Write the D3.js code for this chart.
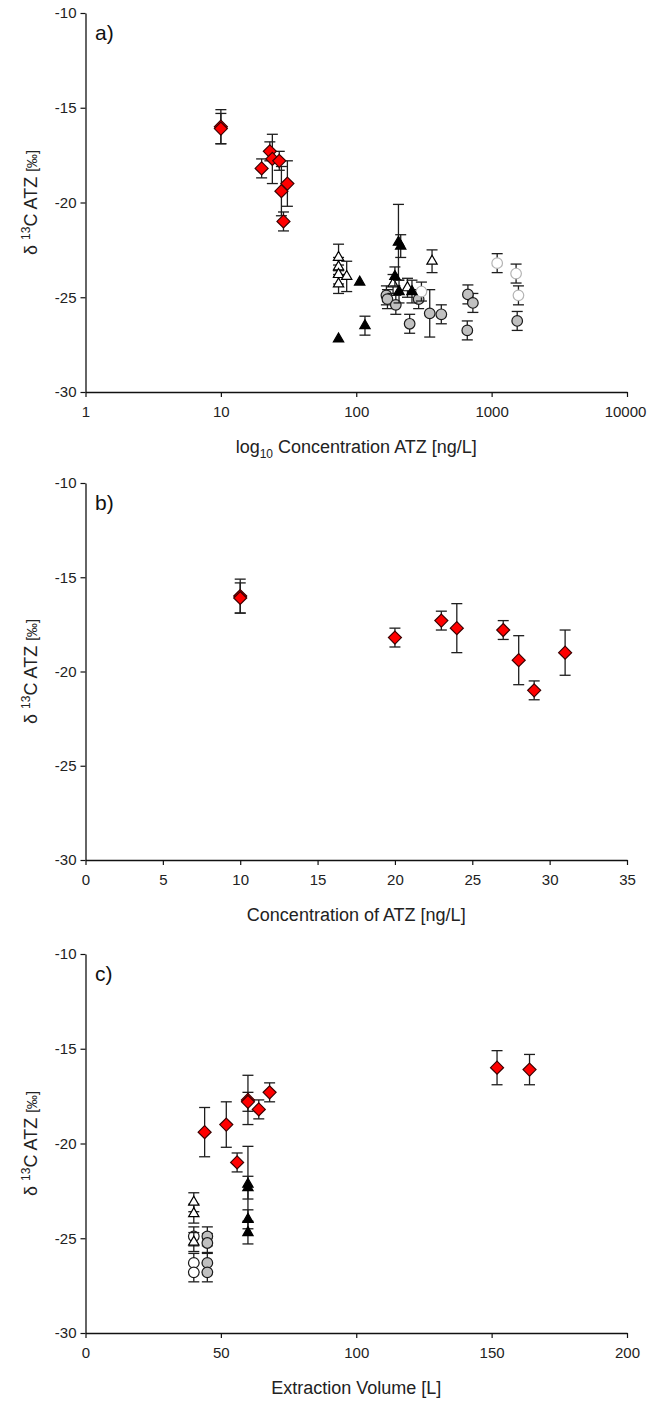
<!DOCTYPE html>
<html>
<head>
<meta charset="utf-8">
<script src="https://cdn.jsdelivr.net/npm/d3@7"></script>
<style>
  html, body { margin: 0; padding: 0; background: #fff; }
  svg { display: block; font-family: "Liberation Sans", Arial, sans-serif; }
</style>
</head>
<body>
<svg id="fig" width="647" height="1401"></svg>
<script>
// ---- δ13C of atrazine (ATZ) vs. concentration and extraction volume ----

// Shared y ticks (‰)
const yTicks = [-10, -15, -20, -25, -30];

// x ticks per panel
const logTicks = [1, 10, 100, 1000, 10000];
const concTicks = [0, 5, 10, 15, 20, 25, 30, 35];
const volTicks = [0, 50, 100, 150, 200];

// Red diamonds: samples with concentration, δ13C, 1σ and extraction volume
const redConc = [10, 10, 20, 23, 24, 27, 28, 29, 31];
const redD13C = [-16.0, -16.1, -18.2, -17.3, -17.7, -17.8, -19.4, -21.0, -19.0];
const redErr  = [0.9, 0.8, 0.5, 0.5, 1.3, 0.5, 1.3, 0.5, 1.2];
const redVol  = [152, 164, 64, 68, 60, 60, 44, 56, 52];

// Panel a) other sample groups
const openTriConc = [74, 74, 74, 74, 85, 187, 239, 363];
const openTriD13C = [-22.9, -23.4, -23.8, -24.3, -23.9, -24.3, -24.5, -23.1];
const openTriErr  = [0.7, 0.5, 0.5, 0.5, 0.8, 0.5, 0.5, 0.6];

const blackTriConc = [74, 106, 116, 193, 205, 213, 207, 258];
const blackTriD13C = [-27.2, -24.2, -26.5, -23.9, -22.1, -22.3, -24.7, -24.7];
const blackTriErr  = [0, 0, 0.5, 0.5, 2.0, 0.6, 0.6, 0.6];

const grayCircConc = [167, 170, 196, 248, 289, 349, 425, 661, 668, 727, 1545];
const grayCircD13C = [-24.9, -25.1, -25.4, -26.4, -25.1, -25.85, -25.9, -26.75, -24.85, -25.3, -26.25];
const grayCircErr  = [0.5, 0.5, 0.5, 0.5, 0.5, 1.25, 0.5, 0.5, 0.5, 0.5, 0.5];

const lightCircConc = [303, 1099, 1516, 1578];
const lightCircD13C = [-24.7, -23.2, -23.75, -24.9];
const lightCircErr  = [0.5, 0.5, 0.5, 0.5];

// Panel c) other sample groups vs. extraction volume
const openTriVol  = [40, 40, 40];
const openTriVolD13C = [-23.1, -23.7, -25.2];
const openTriVolErr  = [0.5, 0.5, 0.5];

const openCircVol = [40, 40, 40];
const openCircVolD13C = [-24.9, -26.3, -26.8];
const openCircVolErr  = [0.5, 0.5, 0.5];

const grayCircVol = [45, 45, 45, 45];
const grayCircVolD13C = [-24.9, -25.25, -26.3, -26.8];
const grayCircVolErr  = [0.5, 0.5, 0.5, 0.5];

const blackTriVol = [60, 60, 60, 60];
const blackTriVolD13C = [-22.15, -22.33, -24.0, -24.7];
const blackTriVolErr  = [2.0, 0.6, 0.5, 0.6];

// ---- styles ----
const FONT_TICK = 15;
const FONT_TITLE = 18;
const INK = "#222";

const styles = {
  diamond:    { shape: "diamond",  fill: "#ff0000", stroke: "#3a0000" },
  openTri:    { shape: "triangle", fill: "#ffffff", stroke: "#000" },
  blackTri:   { shape: "triangle", fill: "#000000", stroke: "#000" },
  grayCirc:   { shape: "circle",   fill: "#c0c0c0", stroke: "#1a1a1a" },
  lightCirc:  { shape: "circle",   fill: "#ffffff", stroke: "#b4b4b4" },
  openCirc:   { shape: "circle",   fill: "#ffffff", stroke: "#1a1a1a" }
};

function rows(xs, ys, es) { return xs.map((x, i) => ({ x, y: ys[i], e: es[i] })); }

const svg = d3.select("#fig");
const X0 = 85.5, X1 = 627;

function markerPath(shape) {
  if (shape === "diamond") {
    const r = 6.5;
    return `M0,${-r}L${r},0L0,${r}L${-r},0Z`;
  }
  if (shape === "triangle") return d3.symbol(d3.symbolTriangle, 46)();
  return d3.symbol(d3.symbolCircle, Math.PI * 5.3 * 5.3)();
}

function drawPanel(cfg) {
  const g = svg.append("g");
  const y = d3.scaleLinear().domain([-30, -10]).range([cfg.bottom, cfg.top]);
  const x = cfg.x;

  // axes
  const ya = d3.axisLeft(y).tickValues(yTicks).tickFormat(d => String(d))
    .tickSize(5).tickSizeOuter(0).tickPadding(4);
  const xa = d3.axisBottom(x).tickValues(cfg.ticks).tickFormat(cfg.format)
    .tickSize(5).tickSizeOuter(0).tickPadding(9);

  const gy = g.append("g").attr("transform", `translate(${X0},0)`).call(ya);
  const gx = g.append("g").attr("transform", `translate(0,${cfg.bottom})`).call(xa);
  [gy, gx].forEach(a => {
    a.selectAll("path.domain").attr("stroke", "#111").attr("stroke-width", 1.3);
    a.selectAll(".tick line").attr("stroke", "#111").attr("stroke-width", 1.2);
    a.selectAll(".tick text").attr("fill", INK).attr("font-size", FONT_TICK)
      .attr("font-family", "Liberation Sans, Arial, sans-serif");
  });
  // keep the last x label inside the figure edge
  gx.selectAll(".tick text").filter(d => d === 10000).attr("dx", -2);

  // panel label
  g.append("text").attr("x", 95).attr("y", cfg.top + 27)
    .attr("font-size", 21).attr("fill", "#111").text(cfg.label);

  // y title: δ13C ATZ [‰]
  const yt = g.append("text")
    .attr("transform", `translate(37,${(cfg.top + cfg.bottom) / 2}) rotate(-90)`)
    .attr("text-anchor", "middle").attr("fill", INK).attr("font-size", FONT_TITLE);
  yt.append("tspan").text("δ ");
  yt.append("tspan").attr("font-size", 12).attr("dy", -7).text("13");
  yt.append("tspan").attr("dy", 7).text("C ATZ ");
  yt.append("tspan").attr("font-size", 14).text("[‰]");

  // x title
  const xt = g.append("text").attr("x", (X0 + X1) / 2).attr("y", cfg.bottom + 61)
    .attr("text-anchor", "middle").attr("fill", INK).attr("font-size", FONT_TITLE);
  cfg.xTitle(xt);

  // series: error bars then markers
  cfg.series.forEach(s => {
    const st = styles[s.style];
    const sg = g.append("g");
    const withErr = s.data.filter(d => d.e > 0);
    const eb = sg.selectAll("g.err").data(withErr).join("g").attr("class", "err")
      .attr("stroke", "#1e1e1e").attr("stroke-width", 1.3);
    const cap = 5.5;
    eb.append("line")
      .attr("x1", d => x(d.x)).attr("x2", d => x(d.x))
      .attr("y1", d => y(d.y + d.e)).attr("y2", d => y(d.y - d.e));
    eb.append("line")
      .attr("x1", d => x(d.x) - cap).attr("x2", d => x(d.x) + cap)
      .attr("y1", d => y(d.y + d.e)).attr("y2", d => y(d.y + d.e));
    eb.append("line")
      .attr("x1", d => x(d.x) - cap).attr("x2", d => x(d.x) + cap)
      .attr("y1", d => y(d.y - d.e)).attr("y2", d => y(d.y - d.e));

    sg.selectAll("path.mk").data(s.data).join("path").attr("class", "mk")
      .attr("d", markerPath(st.shape))
      .attr("transform", d => `translate(${x(d.x)},${y(d.y)})`)
      .attr("fill", st.fill).attr("stroke", st.stroke).attr("stroke-width", 1.2);
  });
}

// a) log10 concentration
drawPanel({
  top: 13, bottom: 392, label: "a)",
  x: d3.scaleLog().domain([1, 10000]).range([X0, X1]),
  ticks: logTicks, format: d3.format("d"),
  xTitle: t => {
    t.append("tspan").text("log");
    t.append("tspan").attr("font-size", 12).attr("dy", 5).text("10");
    t.append("tspan").attr("dy", -5).text(" Concentration ATZ [ng/L]");
  },
  series: [
    { style: "grayCirc",  data: rows(grayCircConc, grayCircD13C, grayCircErr) },
    { style: "lightCirc", data: rows(lightCircConc, lightCircD13C, lightCircErr) },
    { style: "openTri",   data: rows(openTriConc, openTriD13C, openTriErr) },
    { style: "blackTri",  data: rows(blackTriConc, blackTriD13C, blackTriErr) },
    { style: "diamond",   data: rows(redConc, redD13C, redErr) }
  ]
});

// b) linear concentration, red samples only
drawPanel({
  top: 483, bottom: 860, label: "b)",
  x: d3.scaleLinear().domain([0, 35]).range([X0, X1]),
  ticks: concTicks, format: d3.format("d"),
  xTitle: t => t.text("Concentration of ATZ [ng/L]"),
  series: [
    { style: "diamond", data: rows(redConc, redD13C, redErr) }
  ]
});

// c) extraction volume
drawPanel({
  top: 954, bottom: 1333, label: "c)",
  x: d3.scaleLinear().domain([0, 200]).range([X0, X1]),
  ticks: volTicks, format: d3.format("d"),
  xTitle: t => t.text("Extraction Volume [L]"),
  series: [
    { style: "openCirc",  data: rows(openCircVol, openCircVolD13C, openCircVolErr) },
    { style: "grayCirc",  data: rows(grayCircVol, grayCircVolD13C, grayCircVolErr) },
    { style: "openTri",   data: rows(openTriVol, openTriVolD13C, openTriVolErr) },
    { style: "blackTri",  data: rows(blackTriVol, blackTriVolD13C, blackTriVolErr) },
    { style: "diamond",   data: rows(redVol, redD13C, redErr) }
  ]
});
</script>
</body>
</html>
